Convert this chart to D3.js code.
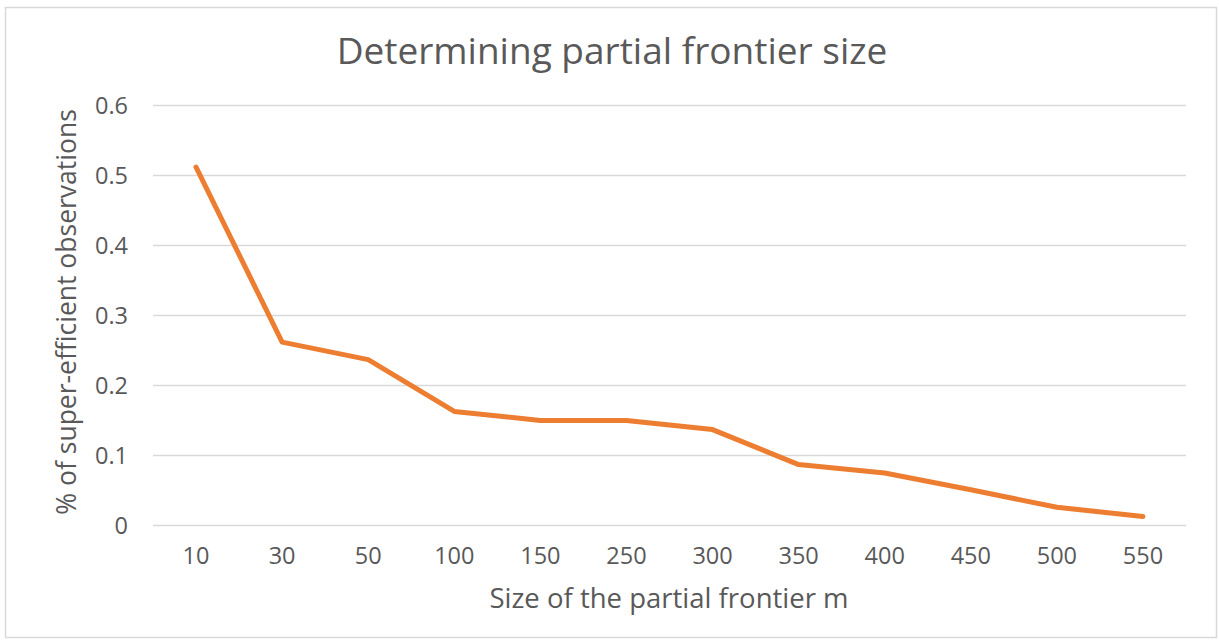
<!DOCTYPE html>
<html>
<head>
<meta charset="utf-8">
<script src="https://cdn.jsdelivr.net/npm/d3@7"></script>
<style>
  body{margin:0;background:#fff;}
  text{font-family:"Open Sans",sans-serif;fill:#595959;}
</style>
</head>
<body>
<svg id="chart" width="1219" height="643"></svg>
<script>
// data
const sizes=["10","30","50","100","150","250","300","350","400","450","500","550"];
const shares=[0.512,0.262,0.237,0.163,0.150,0.150,0.137,0.087,0.075,0.051,0.026,0.013];
const yTicks=[0,0.1,0.2,0.3,0.4,0.5,0.6];

const m={left:153,right:1186,top:105.5,bottom:525.5};

const svg=d3.select("#chart");

svg.append("rect")
  .attr("x",5.5).attr("y",7.5)
  .attr("width",1211).attr("height",630)
  .attr("fill","#fff")
  .attr("stroke","#d9d9d9")
  .attr("stroke-width",1.5);

const x=d3.scaleBand().domain(sizes).range([m.left,m.right]);
const y=d3.scaleLinear().domain([0,0.6]).range([m.bottom,m.top]);

// gridlines
svg.append("g")
  .selectAll("line")
  .data(yTicks)
  .enter()
    .append("line")
    .attr("x1",m.left).attr("x2",m.right)
    .attr("y1",(d)=>y(d)).attr("y2",(d)=>y(d))
    .attr("stroke","#d9d9d9")
    .attr("stroke-width",1.5);

// y tick labels
svg.append("g")
  .selectAll("text")
  .data(yTicks)
  .enter()
    .append("text")
    .attr("x",128)
    .attr("y",(d)=>y(d))
    .attr("dy","0.35em")
    .attr("text-anchor","end")
    .style("font-size","23.5px")
    .text((d)=>d===0?"0":d3.format(".1f")(d));

// x tick labels
svg.append("g")
  .selectAll("text")
  .data(sizes)
  .enter()
    .append("text")
    .attr("x",(d)=>x(d)+x.bandwidth()/2)
    .attr("y",556)
    .attr("dy","0.35em")
    .attr("text-anchor","middle")
    .style("font-size","23.5px")
    .text((d)=>d);

// the line
const line=d3.line()
  .x((d,i)=>x(sizes[i])+x.bandwidth()/2)
  .y((d)=>y(d));

svg.append("path")
  .datum(shares)
  .attr("d",line)
  .attr("fill","none")
  .attr("stroke","#ED7D31")
  .attr("stroke-width",5)
  .attr("stroke-linecap","round")
  .attr("stroke-linejoin","round");

// titles
svg.append("text")
  .attr("x",612).attr("y",51)
  .attr("dy","0.35em")
  .attr("text-anchor","middle")
  .style("font-size","37px")
  .text("Determining partial frontier size");

svg.append("text")
  .attr("x",669).attr("y",598)
  .attr("dy","0.35em")
  .attr("text-anchor","middle")
  .style("font-size","27.5px")
  .text("Size of the partial frontier m");

svg.append("text")
  .attr("transform","translate(67,312) rotate(-90)")
  .attr("dy","0.35em")
  .attr("text-anchor","middle")
  .style("font-size","26.5px")
  .text("% of super-efficient observations");
</script>
</body>
</html>
